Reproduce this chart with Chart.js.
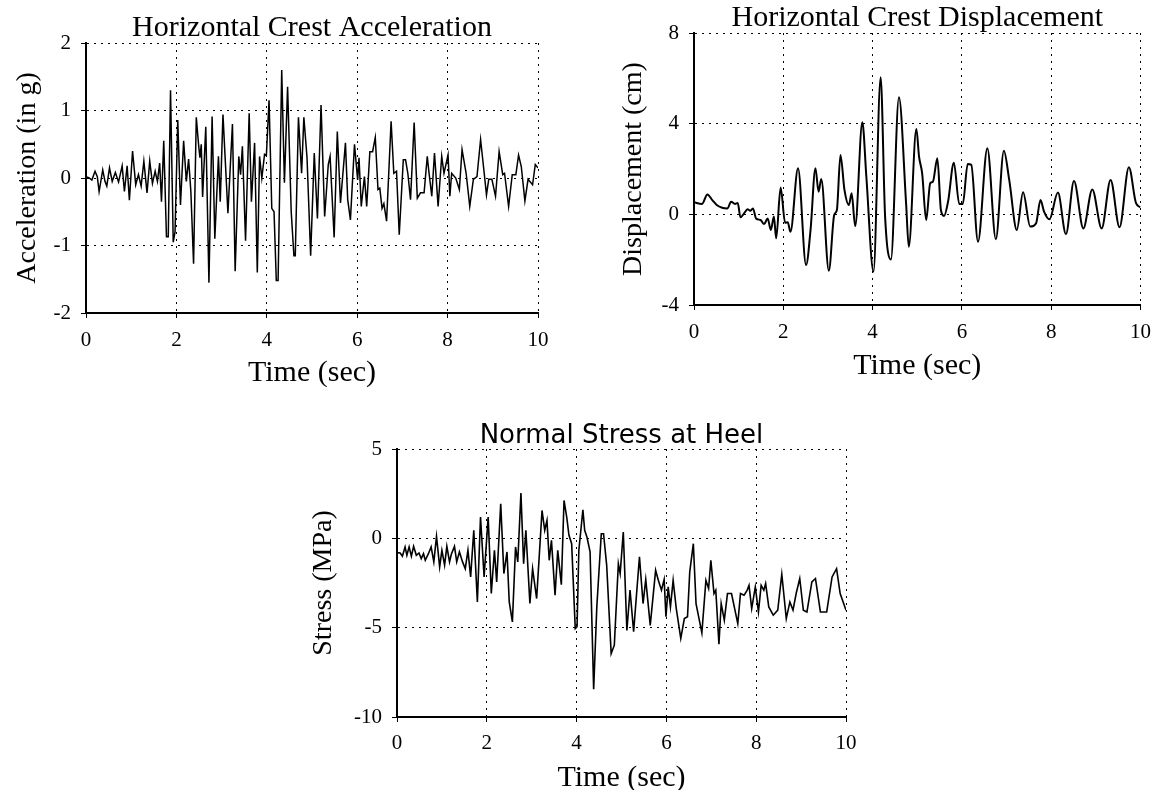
<!DOCTYPE html>
<html>
<head>
<meta charset="utf-8">
<script src="https://cdn.jsdelivr.net/npm/chart.js@4.4.1/dist/chart.umd.min.js"></script>
<style>
  html, body { margin: 0; padding: 0; background: #fff; }
  body { width: 1161px; height: 790px; position: relative; overflow: hidden; }
  canvas { position: absolute; }
  #accChart { left: 0; top: 0; }
  #dispChart { left: 580px; top: 0; }
  #stressChart { left: 300px; top: 420px; }
</style>
</head>
<body>
<canvas id="accChart" width="580" height="420"></canvas>
<canvas id="dispChart" width="581" height="420"></canvas>
<canvas id="stressChart" width="580" height="370"></canvas>
<script>
// time (sec), acceleration (g) - turning points
var accPoints = [
  [0,0.02],[0.07,0],[0.13,-0.03],[0.2,0.1],[0.25,0.02],[0.29,-0.2],[0.37,0.12],[0.42,-0.05],[0.46,-0.12],
  [0.52,0.15],[0.58,-0.05],[0.65,0.08],[0.72,-0.06],[0.8,0.18],[0.85,-0.2],[0.91,0.18],[0.96,-0.33],
  [1.03,0.4],[1.1,-0.1],[1.16,0.05],[1.22,-0.12],[1.28,0.25],[1.35,-0.22],[1.41,0.25],[1.47,-0.08],
  [1.53,0.1],[1.58,-0.05],[1.63,0.22],[1.67,-0.35],[1.72,0.55],[1.78,-0.87],[1.82,-0.87],[1.87,1.3],
  [1.93,-0.95],[1.97,-0.8],[2.03,0.86],[2.09,-0.4],[2.16,0.55],[2.22,-0.05],[2.27,0.28],[2.32,-0.2],
  [2.38,-1.27],[2.44,0.9],[2.49,0.5],[2.52,0.3],[2.55,0.5],[2.58,-0.28],[2.65,0.76],[2.72,-1.55],
  [2.79,0.91],[2.85,-0.9],[2.93,0.32],[2.97,-0.35],[3.03,0.94],[3.14,-0.52],[3.24,0.8],[3.3,-1.38],
  [3.38,0.32],[3.42,0.05],[3.46,0.47],[3.53,-0.93],[3.61,0.96],[3.66,-0.35],[3.73,0.52],[3.79,-1.4],
  [3.84,0.32],[3.89,0.0],[3.95,0.35],[3.99,0.33],[4.05,1.15],[4.11,-0.45],[4.16,-0.5],[4.21,-1.52],
  [4.25,-1.52],[4.33,1.6],[4.39,-0.07],[4.46,1.35],[4.54,-0.5],[4.6,-1.15],[4.63,-1.15],[4.7,0.9],
  [4.77,0.07],[4.82,0.9],[4.89,0.3],[4.97,-1.15],[5.05,0.37],[5.12,-0.6],[5.2,1.08],[5.28,-0.57],
  [5.36,0.2],[5.4,0.32],[5.49,-0.88],[5.56,0.69],[5.63,-0.37],[5.74,0.52],[5.79,-0.32],[5.85,-0.62],
  [5.94,0.5],[6.01,-0.03],[6.04,0.3],[6.09,-0.42],[6.16,0.02],[6.21,-0.42],[6.28,0.39],[6.34,0.39],
  [6.4,0.6],[6.46,-0.17],[6.5,-0.15],[6.55,-0.45],[6.59,-0.38],[6.65,-0.64],[6.75,0.84],[6.81,0.07],
  [6.87,0.1],[6.93,-0.84],[7.02,0.27],[7.07,0.27],[7.12,0.07],[7.18,-0.32],[7.26,0.82],[7.33,-0.3],
  [7.4,-0.22],[7.48,-0.22],[7.55,0.32],[7.59,0.07],[7.65,-0.27],[7.71,0.37],[7.79,-0.42],[7.87,0.32],
  [7.92,0.07],[8.01,0.34],[8.05,-0.27],[8.09,0.07],[8.18,0.0],[8.26,-0.17],[8.32,0.42],[8.41,0.07],
  [8.49,-0.42],[8.57,-0.02],[8.65,0.02],[8.73,0.57],[8.81,0.07],[8.86,-0.25],[8.91,-0.02],[8.98,-0.02],
  [9.06,-0.27],[9.14,0.39],[9.22,0.05],[9.26,0.07],[9.35,-0.42],[9.43,0.05],[9.51,0.05],[9.57,0.34],
  [9.63,0.17],[9.71,-0.34],[9.78,-0.02],[9.88,-0.1],[9.94,0.2],[10,0.15]
];

// time (sec), displacement (cm)
var dispPoints = [
  [0,0.53],[0.18,0.46],[0.30,0.88],[0.41,0.63],[0.51,0.41],[0.63,0.29],[0.75,0.26],[0.83,0.56],[0.92,0.46],
  [0.98,0.5],[1.04,-0.13],[1.12,0.04],[1.20,0.22],[1.26,0.16],[1.32,0.26],[1.39,-0.18],[1.49,-0.25],
  [1.57,-0.43],[1.65,-0.18],[1.72,-0.69],[1.79,-0.1],[1.84,-1.06],[1.94,1.18],[2.04,-0.37],[2.10,-0.35],
  [2.16,-0.77],[2.33,2.03],[2.51,-2.24],[2.61,-0.69],[2.72,2.03],[2.79,1.0],[2.85,1.56],[3.02,-2.49],
  [3.14,-0.03],[3.20,0.19],[3.28,2.62],[3.37,1.08],[3.47,0.41],[3.53,0.93],[3.61,-0.52],[3.77,4.06],
  [3.86,1.66],[4.02,-2.53],[4.18,6.05],[4.28,-0.1],[4.41,-1.99],[4.59,5.17],[4.75,0.49],[4.81,-1.43],
  [4.98,3.76],[5.04,2.55],[5.11,1.81],[5.20,-0.25],[5.29,1.37],[5.35,1.44],[5.45,2.47],[5.53,0.19],
  [5.60,-0.07],[5.69,0.56],[5.82,2.28],[5.94,0.46],[6.02,0.46],[6.13,2.22],[6.21,2.18],[6.36,-1.21],
  [6.57,2.92],[6.76,-1.1],[6.94,2.81],[7.06,1.52],[7.23,-0.69],[7.37,0.97],[7.53,-0.54],[7.66,-0.4],
  [7.76,0.63],[7.84,0.12],[7.96,-0.22],[8.15,0.96],[8.33,-0.87],[8.51,1.47],[8.72,-0.62],[8.92,1.1],
  [9.13,-0.62],[9.33,1.52],[9.53,-0.57],[9.74,2.08],[9.90,0.49],[10,0.31]
];

// time (sec), stress (MPa)
var stressPoints = [
  [0,-0.8],[0.07,-0.82],[0.12,-1.0],[0.18,-0.48],[0.22,-0.95],[0.27,-0.48],[0.32,-1.0],[0.37,-0.45],
  [0.43,-0.95],[0.49,-0.82],[0.54,-1.14],[0.59,-0.86],[0.63,-1.23],[0.70,-0.86],[0.76,-0.48],[0.82,-1.32],
  [0.88,0.11],[0.95,-1.6],[1.00,-0.67],[1.06,-1.5],[1.11,-0.45],[1.17,-1.32],[1.21,-0.89],[1.28,-0.45],
  [1.33,-1.32],[1.39,-0.76],[1.46,-1.32],[1.52,-1.7],[1.58,-0.67],[1.64,-2.16],[1.71,0.45],[1.79,-3.56],
  [1.86,1.19],[1.94,-2.16],[2.03,1.19],[2.10,-3.09],[2.17,-0.67],[2.22,-2.44],[2.31,1.94],[2.38,-1.97],
  [2.45,-0.76],[2.50,-3.56],[2.57,-4.68],[2.64,-0.48],[2.69,-1.32],[2.76,2.53],[2.82,-1.42],[2.87,0.45],
  [2.96,-3.65],[3.02,-1.7],[3.11,-3.37],[3.23,1.56],[3.29,0.45],[3.34,1.0],[3.39,-1.23],[3.44,-0.11],
  [3.52,-3.18],[3.58,-0.67],[3.66,-2.59],[3.72,2.12],[3.78,1.19],[3.83,0.17],[3.89,-0.3],[3.97,-5.05],
  [4.01,-4.95],[4.05,-0.67],[4.14,1.6],[4.18,0.45],[4.23,0.07],[4.30,-0.76],[4.38,-8.45],[4.45,-3.84],
  [4.55,0.26],[4.60,0.26],[4.67,-1.51],[4.77,-6.45],[4.84,-5.98],[4.93,-1.42],[4.97,-1.97],[5.04,0.35],
  [5.12,-5.15],[5.19,-2.9],[5.27,-5.23],[5.40,-1.04],[5.48,-3.65],[5.54,-2.3],[5.64,-4.87],[5.76,-1.79],
  [5.82,-2.35],[5.89,-2.9],[5.95,-2.3],[5.99,-4.39],[6.04,-2.72],[6.09,-3.84],[6.15,-2.35],[6.22,-3.93],
  [6.32,-5.6],[6.40,-4.49],[6.47,-4.39],[6.52,-1.88],[6.60,-0.3],[6.66,-3.65],[6.79,-5.29],[6.88,-2.35],
  [6.94,-2.81],[6.99,-1.23],[7.06,-3.09],[7.10,-2.9],[7.17,-5.92],[7.22,-3.65],[7.29,-4.58],[7.36,-3.09],
  [7.45,-3.09],[7.59,-4.77],[7.65,-3.09],[7.73,-3.18],[7.80,-2.9],[7.84,-2.63],[7.90,-3.93],[7.98,-2.72],
  [8.05,-4.12],[8.11,-2.63],[8.17,-2.9],[8.21,-2.53],[8.28,-3.84],[8.38,-4.3],[8.48,-4.02],[8.57,-2.01],
  [8.67,-4.49],[8.75,-3.56],[8.82,-4.02],[8.89,-3.09],[8.97,-2.25],[9.05,-4.02],[9.13,-4.12],[9.24,-2.44],
  [9.32,-2.25],[9.43,-4.12],[9.57,-4.12],[9.69,-2.16],[9.79,-1.7],[9.87,-3.09],[10,-4.02]
];

var timeTicks = [0, 2, 4, 6, 8, 10];
var accTicks = [-2, -1, 0, 1, 2];
var dispTicks = [-4, 0, 4, 8];
var stressTicks = [-10, -5, 0, 5];

var SERIF = '"Liberation Serif", "Times New Roman", serif';
var SANS = '"DejaVu Sans", Verdana, sans-serif';

function toXY(points) {
    return points.map(function(p) { return {x: p[0], y: p[1]}; });
}

function makeChart(id, cfg) {
    var ctx = document.getElementById(id).getContext('2d');
    var yt = cfg.yTicks;
    return new Chart(ctx, {
        type: 'line',
        data: {
            datasets: [{
                data: toXY(cfg.points),
                borderColor: '#000',
                borderWidth: cfg.lineWidth,
                pointRadius: 0,
                fill: false,
                tension: 0,
                cubicInterpolationMode: cfg.smooth ? 'monotone' : 'default'
            }]
        },
        options: {
            responsive: false,
            animation: false,
            devicePixelRatio: 1,
            layout: {padding: {left: 0, top: 0, right: cfg.padRight, bottom: 0}},
            plugins: {
                legend: {display: false},
                tooltip: {enabled: false},
                title: {
                    display: true,
                    text: cfg.title,
                    fullSize: false,
                    color: '#000',
                    font: {family: cfg.titleFamily, size: cfg.titleSize, weight: 'normal', lineHeight: 1},
                    padding: {top: cfg.titleTop, bottom: 0}
                }
            },
            scales: {
                x: {
                    type: 'linear',
                    min: 0,
                    max: 10,
                    afterFit: function(scale) { scale.height = cfg.xHeight; },
                    afterBuildTicks: function(scale) {
                        scale.ticks = timeTicks.map(function(v) { return {value: v}; });
                    },
                    ticks: {
                        color: '#000',
                        padding: cfg.xTickPad,
                        maxRotation: 0,
                        font: {family: SERIF, size: 21}
                    },
                    grid: {
                        color: '#000',
                        lineWidth: 1,
                        tickLength: 5,
                        tickColor: '#000',
                        tickBorderDash: []
                    },
                    border: {display: true, color: '#000', width: 2, dash: [2, 5]},
                    title: {
                        display: true,
                        text: 'Time (sec)',
                        color: '#000',
                        font: {family: SERIF, size: 30, lineHeight: 1},
                        padding: {top: 0, bottom: cfg.xTitlePad}
                    }
                },
                y: {
                    type: 'linear',
                    min: yt[0],
                    max: yt[yt.length - 1],
                    afterFit: function(scale) { scale.width = cfg.yWidth; },
                    afterBuildTicks: function(scale) {
                        scale.ticks = yt.map(function(v) { return {value: v}; });
                    },
                    ticks: {
                        color: '#000',
                        padding: 10,
                        font: {family: SERIF, size: 21}
                    },
                    grid: {
                        color: '#000',
                        lineWidth: 1,
                        tickLength: 5,
                        tickColor: '#000',
                        tickBorderDash: []
                    },
                    border: {display: true, color: '#000', width: 2, dash: [2, 5]},
                    title: {
                        display: true,
                        text: cfg.yTitle,
                        color: '#000',
                        font: {family: SERIF, size: 28, lineHeight: 1},
                        padding: {top: cfg.yTitlePad, bottom: 0}
                    }
                }
            }
        }
    });
}

makeChart('accChart', {
    points: accPoints, yTicks: accTicks, lineWidth: 1.5, smooth: false,
    title: 'Horizontal Crest Acceleration', titleFamily: SERIF, titleSize: 30, titleTop: 13,
    yTitle: 'Acceleration (in g)', yWidth: 86, yTitlePad: 14,
    xHeight: 107, xTickPad: 10, xTitlePad: 32, padRight: 42
});

makeChart('dispChart', {
    points: dispPoints, yTicks: dispTicks, lineWidth: 2, smooth: true,
    title: 'Horizontal Crest Displacement', titleFamily: SERIF, titleSize: 30, titleTop: 3,
    yTitle: 'Displacement (cm)', yWidth: 114, yTitlePad: 40,
    xHeight: 115, xTickPad: 10, xTitlePad: 39, padRight: 14
});

makeChart('stressChart', {
    points: stressPoints, yTicks: stressTicks, lineWidth: 1.6, smooth: false,
    title: 'Normal Stress at Heel', titleFamily: SANS, titleSize: 26, titleTop: 3,
    yTitle: 'Stress (MPa)', yWidth: 97, yTitlePad: 10,
    xHeight: 73, xTickPad: 9, xTitlePad: -3, padRight: 34
});
</script>
</body>
</html>
